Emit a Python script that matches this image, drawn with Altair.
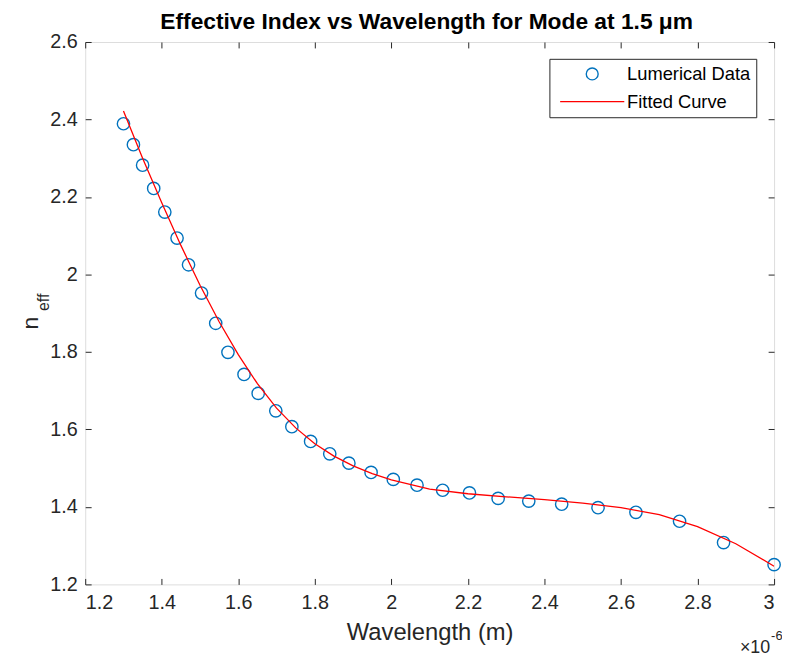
import altair as alt
import pandas as pd

# ---- data (wavelength in micrometres, axis shows x10^-6 m)
wl_data = [1.300, 1.326, 1.350, 1.379, 1.408, 1.440, 1.470, 1.504, 1.541, 1.573,
           1.615, 1.652, 1.698, 1.740, 1.789, 1.839, 1.889, 1.947, 2.005, 2.067,
           2.134, 2.204, 2.279, 2.359, 2.445, 2.540, 2.639, 2.753, 2.868, 3.000]
neff_data = [2.389, 2.335, 2.282, 2.222, 2.161, 2.094, 2.025, 1.952, 1.874, 1.799,
             1.742, 1.693, 1.648, 1.607, 1.569, 1.537, 1.513, 1.489, 1.471, 1.456,
             1.443, 1.436, 1.422, 1.415, 1.407, 1.398, 1.386, 1.363, 1.308, 1.251]

wl_fit = [1.30, 1.35, 1.40, 1.45, 1.50, 1.55, 1.60, 1.65, 1.70, 1.75, 1.80, 1.85,
          1.90, 1.95, 2.00, 2.10, 2.20, 2.30, 2.40, 2.50, 2.60, 2.70, 2.80, 2.90, 3.00]
neff_fit = [2.422, 2.300, 2.185, 2.075, 1.972, 1.878, 1.793, 1.718, 1.655, 1.604,
            1.563, 1.531, 1.506, 1.486, 1.470, 1.446, 1.434, 1.426, 1.419, 1.410,
            1.398, 1.380, 1.349, 1.305, 1.247]

series_names = ["Lumerical Data", "Fitted Curve"]
x_ticks = [1.2, 1.4, 1.6, 1.8, 2.0, 2.2, 2.4, 2.6, 2.8, 3.0]
y_ticks = [1.2, 1.4, 1.6, 1.8, 2.0, 2.2, 2.4, 2.6]

title_text = "Effective Index vs Wavelength for Mode at 1.5 \u03bcm"
x_title = "Wavelength (m)"

FONT = "Liberation Sans"
AX = "#262626"
W, H = 696, 548

df_pts = pd.DataFrame({"wl": wl_data, "neff": neff_data, "series": series_names[0]})
df_fit = pd.DataFrame({"wl": wl_fit, "neff": neff_fit, "series": series_names[1]})

xs = alt.Scale(domain=[1.2, 3.0], nice=False, zero=False)
ys = alt.Scale(domain=[1.2, 2.6], nice=False, zero=False)
color_scale = alt.Scale(domain=series_names, range=["#0072BD", "#FF0000"])
shape_scale = alt.Scale(domain=series_names, range=["circle", "M-5.4,0H5.4"])

legend = alt.Legend(
    title=None, orient="none", legendX=469, legendY=17,
    strokeColor=AX, fillColor="white", padding=6, cornerRadius=0,
    labelFont=FONT, labelFontSize=18.5, labelColor="#000000",
    symbolSize=144, symbolStrokeWidth=1.4, symbolOffset=28, labelOffset=26,
    rowPadding=9, labelLimit=300, symbolOpacity=1,
)

tick_axis = dict(domain=False, grid=False, tickSize=6, offset=-6,
                 tickColor=AX, tickWidth=1)
label_axis = dict(labelFont=FONT, labelFontSize=20, labelColor=AX, format="~g",
                  labelPadding=8)

pts = alt.Chart(df_pts).mark_point(filled=False, size=155, strokeWidth=1.4,
                                   opacity=1, clip=False).encode(
    x=alt.X("wl:Q", scale=xs, axis=alt.Axis(orient="top", values=x_ticks, labels=False,
                                             title=None, **tick_axis)),
    y=alt.Y("neff:Q", scale=ys, axis=alt.Axis(orient="right", values=y_ticks, labels=False,
                                               title=None, **tick_axis)),
    color=alt.Color("series:N", scale=color_scale, legend=legend),
    shape=alt.Shape("series:N", scale=shape_scale, legend=legend),
)

fit = alt.Chart(df_fit).mark_line(strokeWidth=1.3, clip=True).encode(
    x=alt.X("wl:Q", scale=xs, axis=alt.Axis(orient="bottom", values=x_ticks, title=x_title,
                                             titleFont=FONT, titleFontSize=24,
                                             titleFontWeight="normal", titleColor=AX,
                                             titlePadding=9, **tick_axis, **label_axis)),
    y=alt.Y("neff:Q", scale=ys, axis=alt.Axis(orient="left", values=y_ticks, title=None,
                                               **tick_axis, **label_axis)),
    color=alt.Color("series:N", scale=color_scale, legend=legend),
)

# chart title, y-axis title n_eff (n with subscript) and x-axis exponent x10^-6
title_mark = alt.Chart(pd.DataFrame({"t": [title_text]})).mark_text(
    align="center", baseline="alphabetic", font=FONT, fontSize=23, fontWeight="bold",
    color="#000000"
).encode(text="t:N", x=alt.value(W / 2 - 3), y=alt.value(-13))
ylab_main = alt.Chart(pd.DataFrame({"t": ["n"]})).mark_text(
    angle=270, align="center", baseline="alphabetic", font=FONT, fontSize=23, color=AX
).encode(text="t:N", x=alt.value(-48), y=alt.value(284))
ylab_sub = alt.Chart(pd.DataFrame({"t": ["eff"]})).mark_text(
    angle=270, align="center", baseline="alphabetic", font=FONT, fontSize=16, color=AX
).encode(text="t:N", x=alt.value(-37), y=alt.value(263))
exp_base = alt.Chart(pd.DataFrame({"t": ["\u00d710"]})).mark_text(
    align="right", baseline="alphabetic", font=FONT, fontSize=18, color=AX
).encode(text="t:N", x=alt.value(692), y=alt.value(617))
exp_sup = alt.Chart(pd.DataFrame({"t": ["-6"]})).mark_text(
    align="left", baseline="alphabetic", font=FONT, fontSize=13, color=AX
).encode(text="t:N", x=alt.value(693), y=alt.value(604))

chart = alt.layer(pts, fit, title_mark, ylab_main, ylab_sub, exp_base, exp_sup).resolve_axis(
    x="independent", y="independent"
).properties(
    width=W, height=H,
    autosize=alt.AutoSizeParams(type="none"),
    padding={"left": 78, "top": 31, "right": 8, "bottom": 70},
).configure_view(stroke=AX, strokeWidth=1).configure(background="white")

chart.save("out.html", embed_options={"renderer": "svg", "actions": False})
